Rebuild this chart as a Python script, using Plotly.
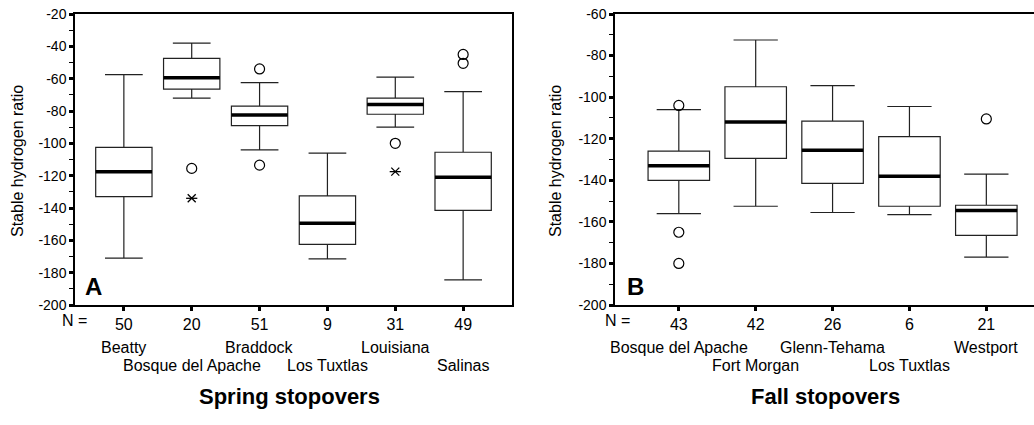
import plotly.graph_objects as go

# ---------------- data ----------------
spring_sites = ["Beatty", "Bosque del Apache", "Braddock", "Los Tuxtlas", "Louisiana", "Salinas"]
spring_n = ["50", "20", "51", "9", "31", "49"]
spring_lower = [-171, -72, -104, -171.5, -90, -184.5]
spring_q1 = [-133, -66.5, -89, -162.5, -82, -141.5]
spring_median = [-117.5, -59.5, -82.5, -149.5, -76, -121]
spring_q3 = [-102.5, -47.5, -77, -132.5, -72, -105.5]
spring_upper = [-57.5, -38, -62.5, -106, -59, -68]
spring_circle_x = [1, 2, 2, 4, 5, 5]
spring_circle_y = [-115.5, -54, -113.5, -100, -45, -50.5]
spring_star_x = [1, 4]
spring_star_y = [-134, -117.5]
spring_yticks = [-200, -180, -160, -140, -120, -100, -80, -60, -40, -20]

fall_sites = ["Bosque del Apache", "Fort Morgan", "Glenn-Tehama", "Los Tuxtlas", "Westport"]
fall_n = ["43", "42", "26", "6", "21"]
fall_lower = [-156, -152.5, -155.5, -156.5, -177]
fall_q1 = [-140, -129.5, -141.5, -152.5, -166.5]
fall_median = [-133, -112, -125.5, -138, -154.5]
fall_q3 = [-126, -95, -111.5, -119, -152]
fall_upper = [-106, -72.5, -94.5, -104.5, -137]
fall_circle_x = [0, 0, 0, 4]
fall_circle_y = [-104, -165, -180, -110.5]
fall_yticks = [-200, -180, -160, -140, -120, -100, -80, -60]

FONT = "Liberation Sans, Arial, sans-serif"
BOXW_S, WHISK_S = 0.83, 0.67
BOXW_F, WHISK_F = 0.80, 0.72

fig = go.Figure()


def add_panel(fig, xa, ya, lower, q1, med, q3, upper, bw, ww):
    xs = list(range(len(med)))
    for i in xs:
        fig.add_trace(go.Box(
            x=[i], q1=[q1[i]], median=[med[i]], q3=[q3[i]],
            lowerfence=[lower[i]], upperfence=[upper[i]],
            width=bw, whiskerwidth=ww, fillcolor="white",
            line=dict(color="#222", width=1.2), boxpoints=False,
            xaxis=xa, yaxis=ya, showlegend=False, hoverinfo="skip"))
    # thick median lines
    mx, my = [], []
    for i in xs:
        mx += [i - bw / 2, i + bw / 2, None]
        my += [med[i], med[i], None]
    fig.add_trace(go.Scatter(x=mx, y=my, mode="lines",
                             line=dict(color="black", width=3.5),
                             xaxis=xa, yaxis=ya, showlegend=False, hoverinfo="skip"))


add_panel(fig, "x", "y", spring_lower, spring_q1, spring_median, spring_q3, spring_upper, BOXW_S, WHISK_S)
add_panel(fig, "x2", "y2", fall_lower, fall_q1, fall_median, fall_q3, fall_upper, BOXW_F, WHISK_F)

mk_circle = dict(symbol="circle-open", size=10, color="black", line=dict(width=1.2))
fig.add_trace(go.Scatter(x=spring_circle_x, y=spring_circle_y, mode="markers", marker=mk_circle,
                         xaxis="x", yaxis="y", showlegend=False, cliponaxis=False))
# extreme values drawn as asterisks (horizontal bar + two diagonals)
for sym in ("x-thin-open", "line-ew-open"):
    fig.add_trace(go.Scatter(x=spring_star_x, y=spring_star_y, mode="markers",
                             marker=dict(symbol=sym, size=8, color="black",
                                         line=dict(width=1.3, color="black")),
                             xaxis="x", yaxis="y", showlegend=False, cliponaxis=False))
fig.add_trace(go.Scatter(x=fall_circle_x, y=fall_circle_y, mode="markers", marker=mk_circle,
                         xaxis="x2", yaxis="y2", showlegend=False, cliponaxis=False))

W, H = 1034, 425
ytop, ybot = 14, 305
ydom = [1 - ybot / H, 1 - ytop / H]

common_x = dict(showgrid=False, zeroline=False, showline=True, linecolor="black", linewidth=1.5,
                ticks="outside", ticklen=4, tickwidth=2.5, tickcolor="black", automargin=False,
                tickfont=dict(family=FONT, size=16, color="black"), tickmode="array")
common_y = dict(showgrid=False, zeroline=False, showline=True, linecolor="black", linewidth=1.5,
                ticks="outside", ticklen=4, tickwidth=2.5, tickcolor="black", automargin=False,
                tickmode="array",
                tickfont=dict(family=FONT, size=14, color="black"),
                minor=dict(tickmode="linear", tick0=-200, dtick=10, ticks="outside", ticklen=4,
                           tickwidth=1.2, tickcolor="black"))

fig.update_layout(
    width=W, height=H, margin=dict(l=0, r=0, t=0, b=0, pad=0, autoexpand=False),
    paper_bgcolor="white", plot_bgcolor="white",
    xaxis=dict(common_x, domain=[75 / W, 512 / W], range=[-0.72, 5.72],
               tickvals=list(range(len(spring_n))), ticktext=spring_n, mirror=True, anchor="y"),
    yaxis=dict(common_y, domain=ydom, range=[-200, -20], mirror=True, anchor="x",
               tickvals=spring_yticks, ticktext=[str(v) for v in spring_yticks]),
    xaxis2=dict(common_x, domain=[615 / W, 1.0], range=[-0.83, 4.62],
                tickvals=list(range(len(fall_n))), ticktext=fall_n, mirror=True, anchor="y2"),
    yaxis2=dict(common_y, domain=ydom, range=[-200, -60], mirror=False, anchor="x2",
                tickvals=fall_yticks, ticktext=[str(v) for v in fall_yticks]),
)


def A(x, y, text, size=16, xref="paper", angle=0):
    return dict(x=x, y=y, xref=xref, yref="paper", text=text, showarrow=False,
                xanchor="center", yanchor="middle", textangle=angle,
                font=dict(family=FONT, size=size, color="black"))


ann = []
# site names in two staggered rows
for sites, xr in ((spring_sites, "x"), (fall_sites, "x2")):
    for i, s in enumerate(sites):
        ann.append(A(i, 1 - (347 if i % 2 == 0 else 365) / H, s, xref=xr))
ann += [
    A(74 / W, 1 - 320 / H, "N ="),
    A(617 / W, 1 - 320 / H, "N ="),
    A(289 / W, 1 - 396 / H, "<b>Spring stopovers</b>", size=22),
    A(825 / W, 1 - 396 / H, "<b>Fall stopovers</b>", size=22),
    A(17 / W, 1 - 161 / H, "Stable hydrogen ratio", angle=-90),
    A(555 / W, 1 - 161 / H, "Stable hydrogen ratio", angle=-90),
    A(93 / W, 1 - 286 / H, "<b>A</b>", size=24),
    A(635 / W, 1 - 286 / H, "<b>B</b>", size=24),
]
fig.update_layout(annotations=ann)

fig.write_html("out.html")
